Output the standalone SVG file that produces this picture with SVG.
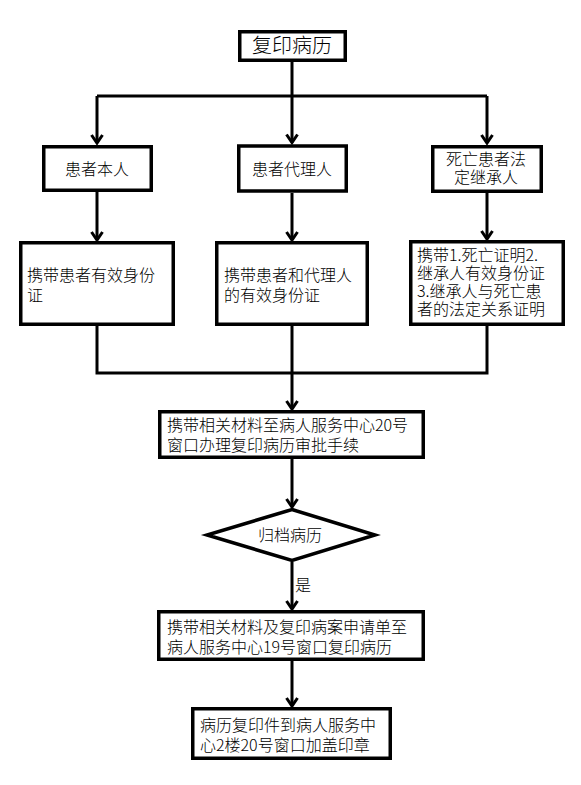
<svg xmlns="http://www.w3.org/2000/svg" width="581" height="785" viewBox="0 0 581 785">
  <style>
    .box { fill: #ffffff; stroke: #000000; stroke-width: 3.5; }
    .ln { fill: none; stroke: #000000; stroke-width: 3; }
    text { font-family: "Noto Sans CJK SC", "Noto Sans", sans-serif; font-size: 16px; font-weight: 300; fill: #000000; }
    .title { font-size: 20px; }
    .c { text-anchor: middle; }
  </style>
  <defs>
    <marker id="arr" markerUnits="userSpaceOnUse" markerWidth="12" markerHeight="12" orient="auto" overflow="visible">
      <path d="M-8,-5.5 L0,0 L-8,5.5" fill="none" stroke="#000000" stroke-width="3"/>
    </marker>
  </defs>
  <rect width="581" height="785" fill="#ffffff"/>

  <g id="connectors">
    <path class="ln" d="M292,62 V96"/>
    <path class="ln" d="M97,96 H487"/>
    <path class="ln" d="M97,96 V143" marker-end="url(#arr)"/>
    <path class="ln" d="M292,96 V142.5" marker-end="url(#arr)"/>
    <path class="ln" d="M487,96 V143" marker-end="url(#arr)"/>
    <path class="ln" d="M97,192 V240" marker-end="url(#arr)"/>
    <path class="ln" d="M292,193 V240" marker-end="url(#arr)"/>
    <path class="ln" d="M487,193 V239" marker-end="url(#arr)"/>
    <path class="ln" d="M97,326 V373 H487 V326"/>
    <path class="ln" d="M292,326 V409" marker-end="url(#arr)"/>
    <path class="ln" d="M292,459 V507" marker-end="url(#arr)"/>
    <path class="ln" d="M292,562 V609" marker-end="url(#arr)"/>
    <path class="ln" d="M292,661 V706" marker-end="url(#arr)"/>
    <text x="295" y="591">是</text>
  </g>

  <g id="n-start">
    <rect class="box" x="239.75" y="31.75" width="105.5" height="28.5"/>
    <text class="title c" x="292" y="52.5">复印病历</text>
  </g>

  <g id="n-self">
    <rect class="box" x="43.75" y="146.75" width="107.5" height="43.5"/>
    <text class="c" x="97" y="175">患者本人</text>
  </g>

  <g id="n-agent">
    <rect class="box" x="238.75" y="146" width="107.5" height="45"/>
    <text class="c" x="292" y="175">患者代理人</text>
  </g>

  <g id="n-heir">
    <rect class="box" x="432.75" y="146.75" width="108.5" height="44.5"/>
    <text class="c" x="486" y="165">死亡患者法<tspan x="486" dy="18">定继承人</tspan></text>
  </g>

  <g id="n-self-doc">
    <rect class="box" x="20.75" y="242.75" width="152.5" height="81.5"/>
    <text x="27" y="281">携带患者有效身份<tspan x="27" dy="20">证</tspan></text>
  </g>

  <g id="n-agent-doc">
    <rect class="box" x="216.75" y="242.75" width="150.5" height="81.5"/>
    <text x="224" y="281">携带患者和代理人<tspan x="224" dy="20">的有效身份证</tspan></text>
  </g>

  <g id="n-heir-doc">
    <rect class="box" x="410.75" y="241.75" width="152.5" height="82.5"/>
    <text x="417" y="261">携带1.死亡证明2.<tspan x="417" dy="18">继承人有效身份证</tspan><tspan x="417" dy="18">3.继承人与死亡患</tspan><tspan x="417" dy="18">者的法定关系证明</tspan></text>
  </g>

  <g id="n-approve">
    <rect class="box" x="159.75" y="411.75" width="263.5" height="45.5"/>
    <text x="167" y="431">携带相关材料至病人服务中心20号<tspan x="167" dy="20">窗口办理复印病历审批手续</tspan></text>
  </g>

  <g id="n-archive">
    <polygon class="box" stroke-width="3" points="292,509.5 375,535 292,560.5 207,535"/>
    <text class="c" x="290" y="541">归档病历</text>
  </g>

  <g id="n-copy">
    <rect class="box" x="158.75" y="611.75" width="264.5" height="47.5"/>
    <text x="167" y="633">携带相关材料及复印病案申请单至<tspan x="167" dy="20">病人服务中心19号窗口复印病历</tspan></text>
  </g>

  <g id="n-stamp">
    <rect class="box" x="192.75" y="708.75" width="197.5" height="49.5"/>
    <text x="200" y="731">病历复印件到病人服务中<tspan x="200" dy="20">心2楼20号窗口加盖印章</tspan></text>
  </g>
</svg>
